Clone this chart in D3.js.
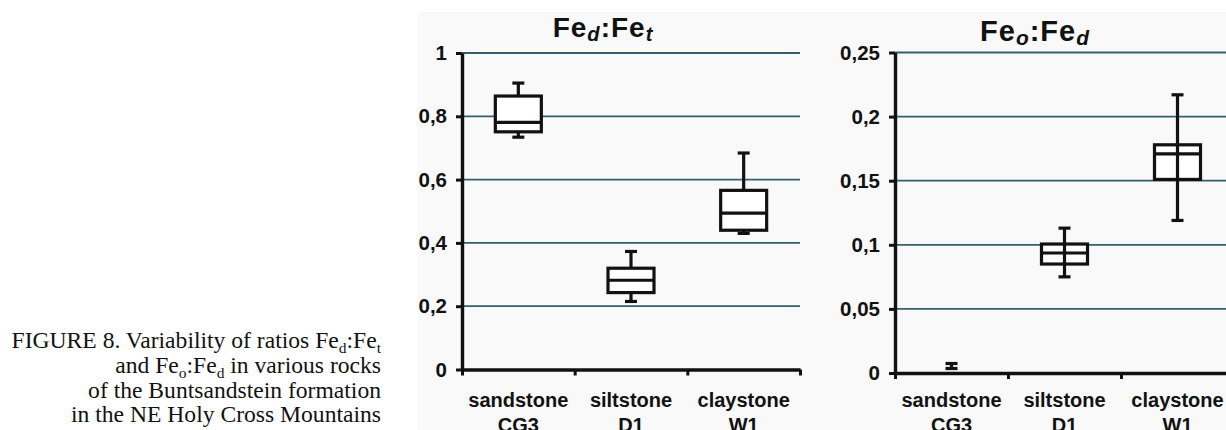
<!DOCTYPE html>
<html>
<head>
<meta charset="utf-8">
<script src="https://cdn.jsdelivr.net/npm/d3@7"></script>
<style>
  body { margin: 0; background: #fff; }
  svg { display: block; }
  .tick text { font-family: "Liberation Sans", Arial, sans-serif; font-weight: bold; font-size: 20.5px; fill: #111; }
</style>
</head>
<body>
<div id="chart"></div>
<script>
// Categories and sample codes
const categories = ["sandstone", "siltstone", "claystone"];
const codes = ["CG3", "D1", "W1"];

// Fe_d:Fe_t box values
const fedMin = [0.734, 0.215, 0.430];
const fedQ1 = [0.751, 0.243, 0.440];
const fedMed = [0.781, 0.282, 0.494];
const fedQ3 = [0.864, 0.320, 0.566];
const fedMax = [0.905, 0.373, 0.684];

// Fe_o:Fe_d box values (sandstone only has whiskers)
const feoMin = [0.0035, 0.075, 0.119];
const feoQ1 = [null, 0.085, 0.151];
const feoMed = [null, 0.0936, 0.171];
const feoQ3 = [null, 0.1006, 0.178];
const feoMax = [0.0074, 0.113, 0.217];

// Tick values and labels
const leftTicks = [0, 0.2, 0.4, 0.6, 0.8, 1];
const leftTickLabels = ["0", "0,2", "0,4", "0,6", "0,8", "1"];
const rightTicks = [0, 0.05, 0.1, 0.15, 0.2, 0.25];
const rightTickLabels = ["0", "0,05", "0,1", "0,15", "0,2", "0,25"];

const width = 1226, height = 430;
const gridColor = "#33606b";
const boxWidth = 46;
const capWidth = 12;

let svg = d3.select("#chart")
    .append("svg")
    .attr("width", width)
    .attr("height", height);

// Light panel behind the charts
svg.append("rect")
    .attr("x", 418).attr("y", 12)
    .attr("width", width - 418).attr("height", height - 12)
    .attr("fill", "#f9f9f9");

// Figure caption
const caption = svg.append("g")
    .attr("font-family", "'Liberation Serif', 'Times New Roman', serif")
    .attr("font-size", 23.6)
    .attr("fill", "#111")
    .attr("text-anchor", "end");

// parts: plain strings or {sub: "x"}; the baseline shifts down for subscripts and back up after
function captionLine(y, parts) {
    let t = caption.append("text").attr("x", 381).attr("y", y);
    let shifted = false;
    parts.forEach(p => {
        if (typeof p === "string") {
            t.append("tspan").attr("dy", shifted ? -5 : 0).text(p);
            shifted = false;
        } else {
            t.append("tspan").attr("font-size", 15.5).attr("dy", shifted ? 0 : 5).text(p.sub);
            shifted = true;
        }
    });
}
captionLine(348, ["FIGURE 8. Variability of ratios Fe", {sub: "d"}, ":Fe", {sub: "t"}]);
captionLine(373, ["and Fe", {sub: "o"}, ":Fe", {sub: "d"}, " in various rocks"]);
captionLine(398, ["of the Buntsandstein formation"]);
captionLine(422, ["in the NE Holy Cross Mountains"]);

function drawTitle(cx, cy, size, main1, sub1, main2, sub2) {
    let t = svg.append("text")
        .attr("x", cx).attr("y", cy)
        .attr("text-anchor", "middle")
        .attr("font-family", "'Liberation Sans', Arial, sans-serif")
        .attr("font-weight", "bold")
        .attr("font-size", size)
        .attr("letter-spacing", 1)
        .attr("fill", "#111");
    t.append("tspan").text(main1);
    t.append("tspan").attr("font-style", "italic").attr("font-size", size * 0.72).attr("dy", 4).text(sub1);
    t.append("tspan").attr("dy", -4).text(main2);
    t.append("tspan").attr("font-style", "italic").attr("font-size", size * 0.72).attr("dy", 4).text(sub2);
}

function drawPanel(opt) {
    let g = svg.append("g");
    let y = d3.scaleLinear().domain(opt.domain).range([opt.y0, opt.y1]);
    let x = d3.scaleBand().domain(categories).range([opt.x0, opt.x1]);
    let xEdge = d3.scaleLinear().domain([0, categories.length]).range([opt.x0, opt.x1]);

    // Gridlines
    g.selectAll("line.grid")
        .data(opt.ticks.filter(d => d > 0))
        .enter()
        .append("line")
        .attr("class", "grid")
        .attr("x1", opt.x0).attr("x2", opt.x1)
        .attr("y1", d => y(d)).attr("y2", d => y(d))
        .attr("stroke", gridColor)
        .attr("stroke-width", 1.8);

    // Y axis
    let yAxis = g.append("g")
        .attr("transform", `translate(${opt.x0},0)`)
        .call(d3.axisLeft(y)
            .tickValues(opt.ticks)
            .tickFormat((d, i) => opt.labels[i])
            .tickSize(6)
            .tickSizeOuter(0)
            .tickPadding(9));
    yAxis.select(".domain").attr("stroke", "#111").attr("stroke-width", 3.4);
    yAxis.selectAll(".tick line").attr("stroke", "#111").attr("stroke-width", 3);

    // X axis with ticks at category edges
    let xAxis = g.append("g")
        .attr("transform", `translate(0,${opt.y0})`)
        .call(d3.axisBottom(xEdge)
            .tickValues(d3.range(categories.length + 1))
            .tickFormat("")
            .tickSize(6)
            .tickSizeOuter(0));
    xAxis.select(".domain").attr("stroke", "#111").attr("stroke-width", 3.4);
    xAxis.selectAll(".tick line").attr("stroke", "#111").attr("stroke-width", 3);

    // Category labels, second line is cut by the page edge as in the original
    let labels = g.selectAll("text.cat")
        .data(categories)
        .enter()
        .append("text")
        .attr("class", "cat")
        .attr("text-anchor", "middle")
        .attr("font-family", "'Liberation Sans', Arial, sans-serif")
        .attr("font-weight", "bold")
        .attr("font-size", 20)
        .attr("fill", "#111")
        .attr("x", d => x(d) + x.bandwidth() / 2)
        .attr("y", 407);
    labels.append("tspan").text(d => d);
    labels.append("tspan")
        .attr("x", d => x(d) + x.bandwidth() / 2)
        .attr("dy", 25)
        .text((d, i) => codes[i]);

    // Boxes
    let data = categories.map((c, i) => ({
        cat: c, min: opt.min[i], q1: opt.q1[i], med: opt.med[i], q3: opt.q3[i], max: opt.max[i]
    }));
    let boxes = g.selectAll("g.box")
        .data(data)
        .enter()
        .append("g")
        .attr("class", "box")
        .attr("transform", d => `translate(${x(d.cat) + x.bandwidth() / 2},0)`)
        .attr("stroke", "#111")
        .attr("stroke-width", 3.2)
        .attr("fill", "none");

    // Whisker stem
    boxes.append("line")
        .attr("x1", 0).attr("x2", 0)
        .attr("y1", d => y(d.min)).attr("y2", d => y(d.max));
    // Caps
    boxes.append("line")
        .attr("x1", -capWidth / 2).attr("x2", capWidth / 2)
        .attr("y1", d => y(d.max)).attr("y2", d => y(d.max));
    boxes.append("line")
        .attr("x1", -capWidth / 2).attr("x2", capWidth / 2)
        .attr("y1", d => y(d.min)).attr("y2", d => y(d.min));

    let withBox = boxes.filter(d => d.q1 !== null);
    withBox.append("rect")
        .attr("x", -boxWidth / 2)
        .attr("width", boxWidth)
        .attr("y", d => y(d.q3))
        .attr("height", d => y(d.q1) - y(d.q3))
        .attr("fill", "#fff");
    withBox.append("line")
        .attr("x1", -boxWidth / 2).attr("x2", boxWidth / 2)
        .attr("y1", d => y(d.med)).attr("y2", d => y(d.med));
    // Stem passes through the box in the right panel
    if (opt.stemThrough) {
        withBox.append("line")
            .attr("x1", 0).attr("x2", 0)
            .attr("y1", d => y(d.q3)).attr("y2", d => y(d.q1));
    }
}

drawPanel({
    domain: [0, 1], y0: 369.5, y1: 53, x0: 462, x1: 800,
    ticks: leftTicks, labels: leftTickLabels,
    min: fedMin, q1: fedQ1, med: fedMed, q3: fedQ3, max: fedMax,
    stemThrough: false
});
drawPanel({
    domain: [0, 0.25], y0: 373, y1: 52.5, x0: 895, x1: 1234,
    ticks: rightTicks, labels: rightTickLabels,
    min: feoMin, q1: feoQ1, med: feoMed, q3: feoQ3, max: feoMax,
    stemThrough: true
});

drawTitle(603, 37, 28, "Fe", "d", ":Fe", "t");
drawTitle(1035, 41, 29, "Fe", "o", ":Fe", "d");
</script>
</body>
</html>
